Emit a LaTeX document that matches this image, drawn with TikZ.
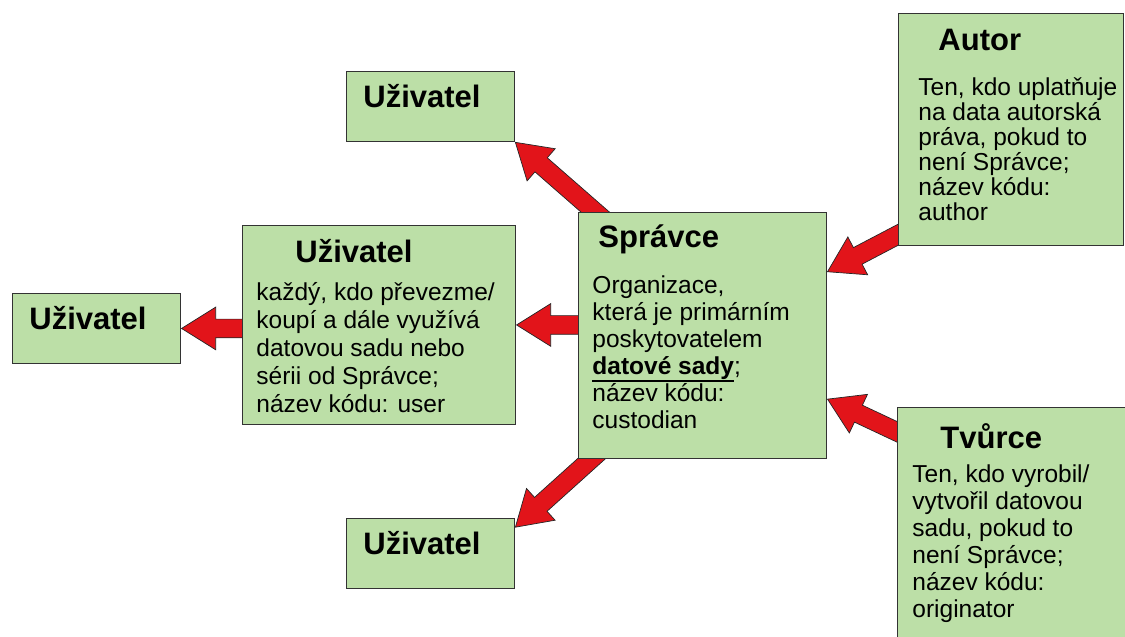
\documentclass[tikz,border=0pt]{standalone}
\usepackage{fontspec}
\setmainfont{Liberation Sans}
\usepackage{tikz}
\usetikzlibrary{calc,shapes.arrows}
\pgfdeclarelayer{background}
\pgfsetlayers{background,main}
\definecolor{boxgreen}{RGB}{188,223,167}
\definecolor{arrowred}{RGB}{226,20,26}
\newcommand{\titlefont}{\fontsize{31}{34}\selectfont\bfseries}
\newcommand{\bodyfont}{\fontsize{24.5}{27}\selectfont}
\newsavebox{\ulbox}
\newcommand{\thickul}[1]{\leavevmode\sbox{\ulbox}{#1}\rlap{\rule[-8pt]{\wd\ulbox}{2pt}}\usebox{\ulbox}}
\tikzstyle{box}=[draw=black!80,fill=boxgreen,line width=0.9pt,inner sep=0pt,anchor=north west]
\tikzstyle{user box}=[box,inner xsep=17pt,inner ysep=12pt,text width=134pt,align=left,text height=24pt,text depth=22pt,font=\titlefont]
\tikzstyle{block arrow}=[single arrow,draw=black!85,fill=arrowred,line width=0.7pt,inner xsep=0pt,inner ysep=9pt,minimum width=42pt,single arrow head extend=12pt,single arrow tip angle=64]
\newcommand{\blockarrow}[2]{%
  \path let \p1=($(#2)-(#1)$), \n1={atan2(\y1,\x1)}, \n2={veclen(\x1,\y1)+14}
    in node[block arrow,rotate=\n1,minimum height=\n2,anchor=tip] at (#2) {};}

\begin{document}
\begin{tikzpicture}[x=1pt,y=-1pt]
   \useasboundingbox (0,0) rectangle (1125,637);
   \clip (0,0) rectangle (1125,637);
   \foreach \pos/\name in {{(346,71)/u1}, {(12,293)/u2}, {(346,518)/u3}}
        \node[user box] (\name) at \pos {Uživatel};
   \node[box] (u4) at (242,225) {\parbox[c][199pt][t]{273pt}{\bodyfont\raggedright\leftskip=14pt \baselineskip=28pt
        \rule{0pt}{37pt}\hspace*{39pt}{\titlefont Uživatel}\par\vspace{10pt}
        každý, kdo převezme/\\ koupí a dále využívá\\ datovou sadu nebo\\ sérii od Správce;\\ název kódu: user}};
   \node[box] (spravce) at (578,212) {\parbox[c][246pt][t]{248pt}{\bodyfont\raggedright\leftskip=14pt
        \rule{0pt}{35pt}\hspace*{6pt}{\titlefont Správce}\par\vspace{19pt}
        Organizace,\\ která je primárním\\ poskytovatelem\\ \thickul{\textbf{datové sady}};\\ název kódu:\\ custodian}};
   \node[box] (autor) at (898,13) {\parbox[c][232pt][t]{225pt}{\bodyfont\raggedright\leftskip=20pt \baselineskip=25pt
        \rule{0pt}{37pt}\hspace*{20pt}{\titlefont Autor}\par\vspace{20pt}
        Ten, kdo uplatňuje\\ na data autorská\\ práva, pokud to\\ není Správce;\\ název kódu:\\ author}};
   \node[box] (tvurce) at (897,407) {\parbox[c][260pt][t]{260pt}{\bodyfont\raggedright\leftskip=15pt
        \rule{0pt}{41pt}\hspace*{28pt}{\titlefont Tvůrce}\par\vspace{7pt}
        Ten, kdo vyrobil/\\ vytvořil datovou\\ sadu, pokud to\\ není Správce;\\ název kódu:\\ originator}};
   \begin{pgfonlayer}{background}
      \blockarrow{spravce.131}{u1.south east}
      \blockarrow{u4.east -| spravce.west}{u4.east}
      \blockarrow{u2.east -| u4.west}{u2.east}
      \blockarrow{spravce.228}{u3.17}
      \blockarrow{autor.223}{spravce.27}
      \blockarrow{tvurce.141}{spravce.333}
   \end{pgfonlayer}
\end{tikzpicture}
\end{document}
